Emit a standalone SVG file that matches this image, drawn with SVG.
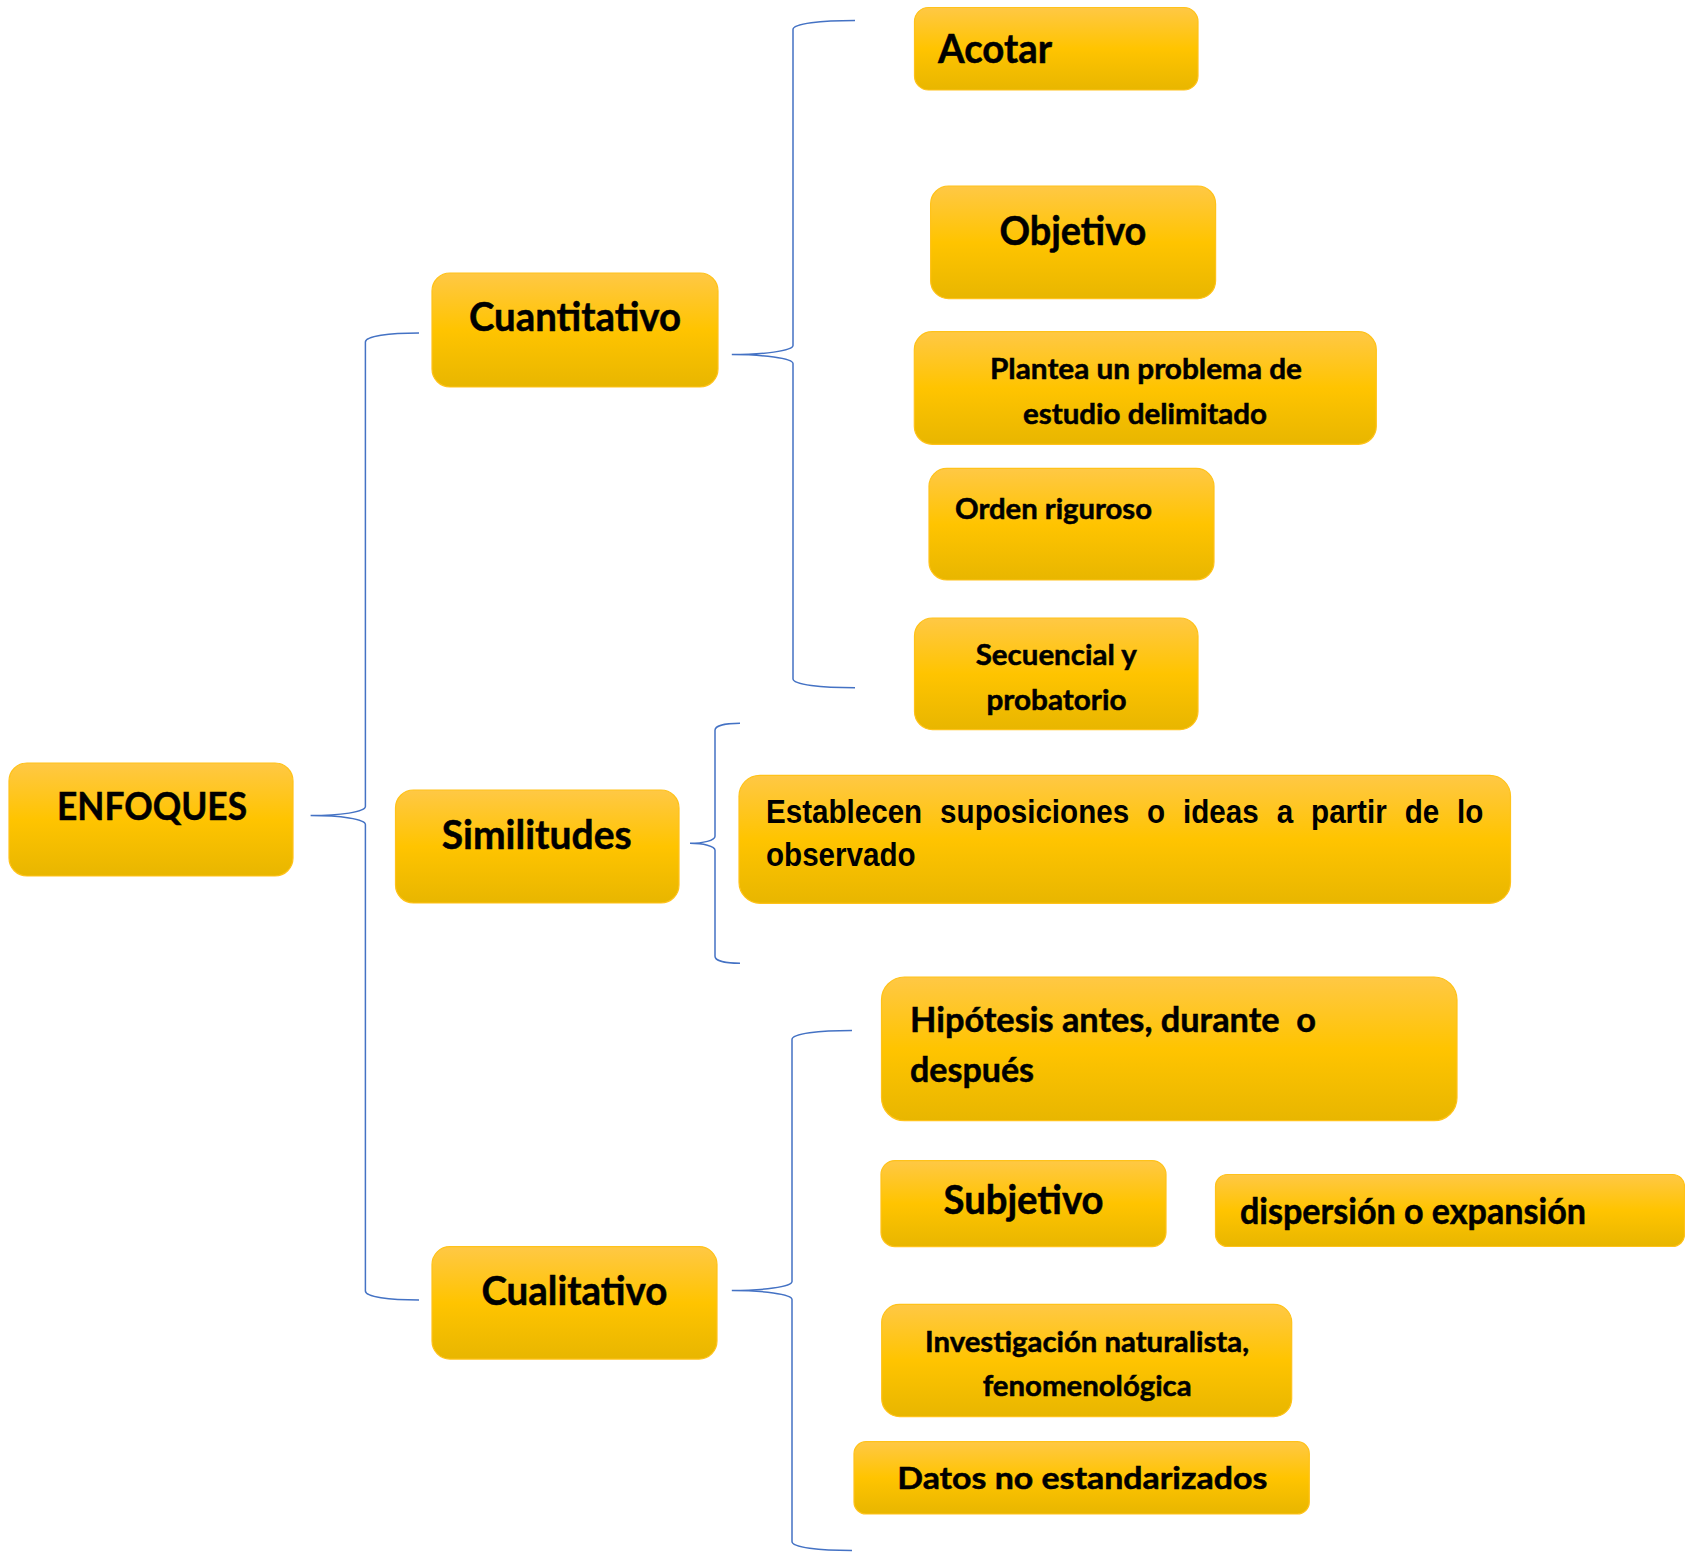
<svg xmlns="http://www.w3.org/2000/svg" width="1685" height="1559" viewBox="0 0 1685 1559">
<defs>
<linearGradient id="gold" x1="0" y1="0" x2="0" y2="1">
<stop offset="0" stop-color="#FFC845"/>
<stop offset="0.5" stop-color="#FFC400"/>
<stop offset="1" stop-color="#E8B600"/>
</linearGradient>
</defs>
<style>
.box{fill:url(#gold);stroke:#FFC21A;stroke-width:1.2}
.t{font-family:Lato,"Liberation Sans",sans-serif;font-weight:bold;fill:#000;stroke:#000;stroke-width:0.5}
.a{font-family:"Liberation Sans",Arial,sans-serif;font-weight:bold;fill:#000;font-size:34px}
.br{fill:none;stroke:#4472C4;stroke-width:1.5}
</style>
<rect width="1685" height="1559" fill="#fff"/>
<g id="connectors">
<path class="br" d="M419,333 C389,333 365.4,336 365.4,342 L365.4,806.6 C365.4,812 340,815.6 310.6,815.6 C340,815.6 365.4,819 365.4,824.6 L365.4,1291 C365.4,1297 389,1300 419,1300"/>
<path class="br" d="M855,20.5 C821,20.5 793,23.5 793,29.5 L793,345.6 C793,351 762,354.6 731.8,354.6 C762,354.6 793,358 793,363.6 L793,678.7 C793,684.7 821,687.7 855,687.7"/>
<path class="br" d="M740,723.3 C726,723.3 715,725.5 715,730.3 L715,836.3 C715,840.5 703,843.3 690,843.3 C703,843.3 715,846 715,850.3 L715,956.3 C715,961 726,963.3 740,963.3"/>
<path class="br" d="M852,1030.5 C819,1030.5 792,1033.5 792,1039.5 L792,1281.5 C792,1287 762,1290.5 731.8,1290.5 C762,1290.5 792,1294 792,1299.5 L792,1541.6 C792,1547.6 819,1550.6 852,1550.6"/>
</g>
<g id="n-enfoques"><rect class="box" x="9" y="763" width="284" height="113" rx="18"/><text class="t" x="57" y="820" font-size="39" textLength="190" lengthAdjust="spacingAndGlyphs">ENFOQUES</text></g>
<g id="n-cuantitativo"><rect class="box" x="432" y="273" width="286" height="114" rx="18"/><text class="t" x="469" y="331" font-size="40" textLength="212" lengthAdjust="spacingAndGlyphs">Cuantitativo</text></g>
<g id="n-similitudes"><rect class="box" x="395.5" y="790" width="283.5" height="113" rx="18"/><text class="t" x="441.7" y="848.5" font-size="40" textLength="190" lengthAdjust="spacingAndGlyphs">Similitudes</text></g>
<g id="n-cualitativo"><rect class="box" x="432" y="1246.6" width="285" height="112.5" rx="18"/><text class="t" x="481.4" y="1304.6" font-size="40" textLength="186" lengthAdjust="spacingAndGlyphs">Cualitativo</text></g>
<g id="n-acotar"><rect class="box" x="914.5" y="7.5" width="283.5" height="82.5" rx="14"/><text class="t" x="938" y="63.3" font-size="40" textLength="114" lengthAdjust="spacingAndGlyphs">Acotar</text></g>
<g id="n-objetivo"><rect class="box" x="930.6" y="186" width="285" height="112.7" rx="18"/><text class="t" x="999.4" y="245" font-size="40" textLength="147" lengthAdjust="spacingAndGlyphs">Objetivo</text></g>
<g id="n-plantea"><rect class="box" x="914.3" y="331.7" width="462" height="112.6" rx="18"/><text class="t" x="990" y="379.3" font-size="28" textLength="312" lengthAdjust="spacingAndGlyphs">Plantea un problema de</text><text class="t" x="1023" y="424" font-size="28" textLength="244" lengthAdjust="spacingAndGlyphs">estudio delimitado</text></g>
<g id="n-orden"><rect class="box" x="929" y="468.3" width="285" height="111.7" rx="18"/><text class="t" x="955" y="519.3" font-size="28" textLength="197" lengthAdjust="spacingAndGlyphs">Orden riguroso</text></g>
<g id="n-secuencial"><rect class="box" x="914.5" y="618" width="283.5" height="111.6" rx="18"/><text class="t" x="975.7" y="664.5" font-size="28" textLength="161" lengthAdjust="spacingAndGlyphs">Secuencial y</text><text class="t" x="986.5" y="709.5" font-size="28" textLength="140" lengthAdjust="spacingAndGlyphs">probatorio</text></g>
<g id="n-establecen"><rect class="box" x="739" y="775.3" width="771.5" height="128" rx="21"/><text class="a" transform="translate(766 823.3) scale(0.87 1)" word-spacing="11.2">Establecen suposiciones o ideas a partir de lo</text><text class="a" transform="translate(766 866) scale(0.87 1)">observado</text></g>
<g id="n-hipotesis"><rect class="box" x="881.5" y="977" width="575.5" height="143.7" rx="23"/><text class="t" x="910" y="1031.7" font-size="35" textLength="406" lengthAdjust="spacingAndGlyphs" xml:space="preserve">Hipótesis antes, durante  o</text><text class="t" x="910" y="1081.7" font-size="35" textLength="124" lengthAdjust="spacingAndGlyphs">después</text></g>
<g id="n-subjetivo"><rect class="box" x="881" y="1160.6" width="285" height="86" rx="14"/><text class="t" x="943.5" y="1214.3" font-size="40" textLength="160" lengthAdjust="spacingAndGlyphs">Subjetivo</text></g>
<g id="n-dispersion"><rect class="box" x="1215.5" y="1174.5" width="469" height="72" rx="12"/><text class="t" x="1240" y="1224" font-size="36" textLength="346" lengthAdjust="spacingAndGlyphs">dispersión o expansión</text></g>
<g id="n-investigacion"><rect class="box" x="881.7" y="1304.3" width="410" height="112.4" rx="18"/><text class="t" x="925" y="1351.7" font-size="28" textLength="324" lengthAdjust="spacingAndGlyphs">Investigación naturalista,</text><text class="t" x="982.7" y="1396" font-size="28" textLength="209" lengthAdjust="spacingAndGlyphs">fenomenológica</text></g>
<g id="n-datos"><rect class="box" x="854" y="1441.7" width="455.3" height="72.3" rx="12"/><text class="t" x="897.3" y="1489.3" font-size="30" textLength="370" lengthAdjust="spacingAndGlyphs">Datos no estandarizados</text></g>
</svg>
